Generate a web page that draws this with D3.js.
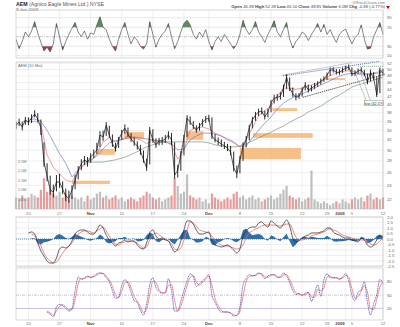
<!DOCTYPE html>
<html><head><meta charset="utf-8">
<script src="https://cdn.jsdelivr.net/npm/d3@7"></script>
<style>
body{margin:0;background:#fff}
svg{display:block}
text{font-family:"Liberation Sans",Arial,sans-serif}
</style>
</head><body>
<svg id="c" width="400" height="327"></svg>
<script>
// ---- axis ticks (trading-day index, 0 = Oct 16 2008) ----
const tickDays   = [2, 7, 12, 17, 22, 27, 31, 36, 41, 46, 50, 53, 54, 59];
const tickLabels = ["20","27","Nov","10","17","24","Dec","8","15","22","29","2009","5","12"];
const boldLabels = ["Nov","Dec","2009"];

// ---- half-day series (119 points) ----
const closePx = [35.1,35.8,34.7,36.3,35.8,36.7,37.7,36.5,34.5,27.8,
 25.4,23.3,23.0,24.5,24.5,23.4,22.4,22.1,23.3,24.8,
 26.4,27.5,28.2,27.8,28.7,29.3,30.0,33.0,32.6,35.1,
 33.0,31.2,30.2,32.0,33.4,34.5,33.2,32.2,31.4,30.8,
 29.8,28.2,26.8,34.0,32.0,31.0,31.8,31.8,32.2,33.0,
 32.0,25.6,26.4,29.1,32.4,36.7,35.8,34.9,34.0,34.9,
 35.8,36.5,36.7,32.8,32.0,31.6,31.2,30.8,30.4,29.6,
 26.8,25.8,28.2,30.8,32.0,34.5,36.3,37.4,38.2,38.4,
 37.0,38.2,40.4,41.7,41.9,42.2,44.4,47.6,44.4,42.8,
 41.9,42.2,43.9,45.3,43.9,44.4,45.0,45.6,46.4,47.0,
 48.2,49.8,49.8,49.1,49.1,49.8,50.4,50.7,48.5,48.8,
 49.5,49.8,48.5,46.1,49.1,47.3,42.5,49.8,48.85];

const highPx = [35.9,36.6,35.9,37.0,36.9,37.6,38.6,37.9,36.4,31.5,
 27.6,25.5,24.1,25.6,25.8,24.6,23.5,23.2,24.0,25.6,
 27.1,28.3,28.9,28.7,29.4,30.1,31.4,33.8,33.9,35.8,
 35.0,33.1,31.4,32.6,34.1,35.3,34.6,33.4,32.5,31.7,
 31.0,29.9,28.4,34.7,34.2,32.3,32.4,32.6,33.0,33.8,
 33.4,31.5,27.3,29.8,33.0,37.4,37.1,36.0,35.1,35.6,
 36.5,37.2,37.5,36.9,33.2,32.5,32.1,31.6,31.2,30.8,
 29.7,27.2,28.9,31.5,32.8,35.2,37.0,38.2,39.0,39.3,
 38.5,38.9,41.2,42.6,42.8,43.3,45.4,48.6,47.5,44.6,
 43.0,43.0,44.6,46.1,45.4,45.2,45.9,46.4,47.2,47.8,
 49.0,50.6,50.7,50.1,50.0,50.6,51.2,51.6,50.6,49.7,
 50.3,50.7,49.9,48.6,49.9,49.2,47.6,50.6,50.2];

const lowPx = [34.3,34.9,34.0,35.2,35.1,35.6,36.9,35.8,33.0,27.0,
 24.6,22.6,22.2,23.1,23.6,22.7,21.7,21.5,22.0,23.4,
 24.9,26.4,27.3,27.0,27.7,28.5,29.2,30.6,31.8,32.8,
 32.4,30.6,29.7,30.4,32.0,33.3,32.6,31.6,30.8,30.1,
 29.1,27.7,26.3,27.4,31.4,30.4,30.9,31.0,31.4,32.1,
 31.0,25.0,25.2,26.3,29.0,32.6,35.2,34.3,33.5,33.9,
 34.8,35.6,35.9,32.2,31.5,31.0,30.6,30.2,29.8,29.0,
 26.2,25.1,25.9,28.0,30.5,31.9,34.4,36.1,37.2,37.6,
 36.4,36.9,38.1,40.3,41.0,41.3,42.0,44.2,43.6,42.0,
 41.1,41.5,42.1,43.8,43.2,43.5,44.2,44.8,45.4,46.2,
 46.8,48.0,49.0,48.4,48.3,48.9,49.5,49.8,47.9,48.0,
 48.6,49.0,47.9,45.5,46.3,46.8,42.0,43.0,48.1];

const volumeM = [0.6,0.5,0.7,0.5,0.6,0.8,0.7,0.6,1.0,1.6,
 0.9,1.0,0.8,0.7,0.9,0.6,0.8,0.5,0.7,0.6,
 0.5,0.6,0.4,0.7,0.5,0.6,0.8,0.9,0.6,0.7,
 0.5,0.6,0.7,0.5,0.6,0.4,0.5,0.6,0.5,0.4,
 0.6,0.7,0.9,0.8,0.6,0.5,0.6,0.4,0.5,0.6,
 0.7,1.6,1.2,0.8,0.9,1.8,0.7,0.6,0.5,0.6,
 0.4,0.5,0.3,0.8,0.6,0.5,0.4,0.5,0.6,0.5,
 0.8,0.9,0.6,0.7,0.5,0.6,0.7,0.5,0.6,0.4,
 0.5,0.6,0.7,0.5,0.6,0.8,1.0,1.2,0.7,0.6,
 0.5,0.6,0.4,0.5,0.6,2.0,0.5,0.4,0.3,0.4,
 0.3,0.2,0.3,0.4,0.3,0.5,0.4,0.3,0.5,0.6,
 0.5,0.6,0.4,0.7,0.8,0.5,0.6,0.5,0.6];

const rsi = [45,25,40,60,50,62,82,58,38,20,
 28,18,35,78,50,22,40,55,68,80,
 60,50,62,45,58,55,75,92,70,65,
 45,30,20,45,65,80,55,35,50,42,
 30,24,35,82,55,28,45,55,62,78,
 50,25,40,60,78,85,75,55,45,60,
 50,65,40,22,40,50,40,55,45,35,
 25,35,55,85,65,55,65,82,60,50,
 38,55,68,84,60,50,65,80,45,26,
 40,48,60,55,42,55,65,78,60,76,
 55,65,50,38,55,62,66,50,35,48,
 55,75,45,24,26,50,65,80,55];

// MACD line, signal, histogram (null before the indicator starts)
const macd = [null,null,null,null,0.55,0.64,0.45,-0.36,-1.09,-1.55,
 -2.0,-2.18,-2.18,-1.73,-0.91,-0.73,-0.82,-0.64,-0.18,0.45,
 0.73,0.82,0.82,0.64,0.45,0.45,0.82,1.27,1.0,0.36,
 -0.09,-0.36,-0.64,-0.36,-0.27,-0.09,-0.27,-0.18,-0.18,-0.55,
 -0.82,-0.91,-0.36,0.55,0.82,0.27,0,0.09,-0.09,-0.18,
 -0.73,-1.18,-0.91,-0.18,0.82,1.64,1.64,1.36,0.82,0.45,
 0.45,0.55,0.64,-0.18,-0.55,-0.64,-0.73,-0.64,-0.55,-0.73,
 -1.0,-1.27,-0.91,0.27,0.73,1.0,1.09,1.09,1.45,1.55,
 1.27,1.09,1.64,1.45,1.18,1.0,1.36,1.73,1.18,0.09,
 -0.27,-0.18,0.09,0.27,0.36,0.55,0.55,0.55,0.64,0.73,
 1.0,1.0,0.64,0.45,0.36,0.18,0.09,0.09,-0.09,-0.18,
 -0.27,0.09,-0.09,-0.55,-0.73,-0.55,-0.09,0.27,0.27];

const signal = [null,null,null,null,null,0.45,0.27,-0.09,-0.64,-1.27,
 -1.73,-2.0,-2.18,-2.09,-1.73,-1.27,-0.91,-0.64,-0.36,0.09,
 0.45,0.64,0.73,0.73,0.64,0.55,0.73,0.91,1.09,0.73,
 0.27,-0.18,-0.45,-0.55,-0.36,-0.27,-0.18,-0.18,-0.27,-0.36,
 -0.64,-0.82,-0.73,-0.09,0.36,0.55,0.36,0.18,0,-0.18,
 -0.45,-0.91,-1.0,-0.82,-0.09,0.82,1.55,1.45,1.18,0.82,
 0.73,0.64,0.55,0.27,-0.09,-0.36,-0.55,-0.64,-0.64,-0.73,
 -0.82,-0.91,-0.82,-0.55,0.09,0.55,0.73,0.91,1.0,1.18,
 1.27,1.27,1.27,1.27,1.18,1.18,1.27,1.36,1.36,0.82,
 0.18,-0.09,-0.09,0,0.09,0.27,0.36,0.45,0.55,0.64,
 0.82,0.91,0.82,0.73,0.55,0.36,0.27,0.18,0.09,0,
 -0.09,-0.09,-0.09,-0.18,-0.45,-0.55,-0.45,-0.18,0.09];

const macdHist = [null,null,null,null,null,0.1,0.05,-0.4,-0.5,-0.3,
 -0.25,-0.15,0,0.35,0.45,0.3,0.1,0,0.2,0.45,
 0.35,0.2,0.1,-0.1,-0.15,-0.05,0.1,0.4,0.2,-0.3,
 -0.4,-0.3,-0.2,0.1,0.1,0.2,-0.05,0,0.05,-0.2,
 -0.2,-0.1,0.35,0.6,0.45,-0.2,-0.3,-0.1,-0.05,0,
 -0.3,-0.5,-0.1,0.4,0.8,0.85,0.1,-0.1,-0.35,-0.3,
 -0.2,0.2,0.1,-0.5,-0.6,-0.3,-0.2,0,0.1,0,
 -0.2,-0.3,-0.1,0.8,0.95,0.6,0.35,0.4,0.45,0.35,
 0,-0.15,0.35,0.2,-0.05,-0.2,0.15,0.5,-0.2,-0.75,
 -0.5,-0.1,0.15,0.2,0.1,0.2,0.15,0.1,0.1,0.1,
 0.3,0.1,-0.2,-0.25,-0.2,-0.2,-0.15,-0.1,-0.15,-0.2,
 -0.15,0.2,0.1,-0.4,-0.3,-0.1,0.3,0.4,0.2];

// stochastic %K / %D
const stochK = [null,null,null,null,null,null,null,null,null,null,
 12,7,1,23,29,27,20,14,20,60,
 91,85,89,93,89,93,98,100,98,89,
 80,60,43,45,71,85,76,56,38,34,
 16,5,31,73,89,67,58,54,56,87,
 60,14,14,36,60,82,98,91,69,76,
 82,89,96,49,34,20,12,12,12,9,
 3,5,23,73,87,96,93,96,100,96,
 87,93,96,96,89,91,100,93,78,60,
 51,54,49,54,56,36,54,73,47,85,
 98,89,89,89,85,91,98,82,49,38,
 56,62,80,34,5,31,51,85,76];

const stochD = [null,null,null,null,null,null,null,null,null,null,
 14,10,5,14,25,28,24,17,17,40,
 76,88,87,91,91,91,95,99,99,93,
 84,70,51,44,58,78,80,66,47,36,
 25,11,18,52,81,78,62,56,55,72,
 73,37,14,25,48,71,90,94,80,72,
 79,85,92,72,42,27,16,12,12,10,
 6,4,14,48,80,91,94,94,98,98,
 91,90,94,96,92,90,95,96,85,69,
 55,52,51,51,55,46,45,63,60,66,
 91,93,89,89,87,88,94,90,65,43,
 47,59,71,57,19,18,41,68,80];

// ---- daily moving averages (60 points) ----
const maFast = [null,36.0,35.8,36.0,35.4,29.1,26.9,25.8,24.8,24.5,
 26.3,27.3,27.8,29.3,31.6,32.4,31.6,32.2,32.8,32.4,
 32.0,31.2,32.0,31.8,31.6,31.0,28.3,30.0,34.0,34.5,
 34.7,34.3,33.4,32.8,32.0,31.4,30.6,32.0,34.5,37.2,
 38.6,39.6,42.2,44.4,44.4,44.1,44.4,45.0,45.6,46.1,
 47.6,48.5,49.1,49.5,49.5,48.8,48.8,48.5,49.1,49.8];
const maMid = [null,null,36.5,36.5,36.0,34.0,31.6,29.3,27.6,25.3,
 26.4,27.5,28.2,28.9,30.2,31.4,31.8,32.0,32.4,32.6,
 32.4,32.2,32.0,31.6,31.6,31.2,30.0,30.2,32.0,32.8,
 33.4,33.4,33.2,32.8,32.2,31.6,30.6,30.8,32.4,34.0,
 35.6,37.0,38.9,40.4,41.4,42.2,42.8,43.6,44.4,45.3,
 46.1,47.0,47.9,48.5,48.8,48.5,48.5,48.5,48.8,49.1];
const maSlow = [null,null,null,null,null,null,null,null,null,null,
 null,28.0,27.8,27.8,27.8,28.0,28.2,28.5,28.9,29.4,
 30.0,30.6,31.0,31.4,31.6,31.6,31.6,31.6,31.6,31.6,
 31.6,31.4,31.0,30.8,30.6,30.6,30.8,31.2,31.8,32.4,
 33.0,33.6,34.3,34.9,35.8,36.5,37.2,38.2,38.9,39.6,
 40.7,41.7,42.5,43.6,44.7,45.3,45.8,46.4,47.0,47.6];

// ---- support / resistance zones: [fromDay, toDay, lowPrice, highPrice] ----
const zones = [[9.0,15.1,24.2,24.7],[13.2,15.9,29.1,30.2],[17.4,20.6,32.2,33.6],
 [27.3,30.1,32.0,33.8],[36.0,45.8,28.3,30.4],[38.1,47.7,32.4,33.4],
 [41.2,45.2,38.4,39.1],[49.7,52.9,46.7,47.3]];

// ---- trend lines: [[day, price], [day, price]] ----
const trendUpperBlue = [[42.9,48.0],[58.5,52.6]];
const trendUpperGray = [[42.9,48.2],[54.0,52.2]];
const trendLower     = [[46.1,41.9],[59.3,48.5]];
const resistance     = [[55.0,51.0],[59.0,51.0]];

const priceTicks = [22,24,26,28,30,32,34,36,38,40,42,44,46,48,50,52];
const volTicks = [0.5,1.0,1.5,2.0,2.5];
const volTickLabels = ["500K","1.0M","1.5M","2.0M","2.5M"];
const rsiTicks = [90,70,30,10];
const macdTicks = [2.0,1.5,1.0,0.5,0.0,-0.5,-1.0,-1.5,-2.0,-2.5];
const stochTicks = [80,50,20];

// ---------------------------------------------------------------
const svg = d3.select("#c");
const L = 16, R = 383;
const P = {
  rsi:   {top:10,  bottom:58},
  price: {top:62,  bottom:209},
  macd:  {top:217, bottom:266},
  stoch: {top:268, bottom:320}
};
const x = d3.scaleLinear().domain([0,59]).range([L,R]);
const hx = (d,i) => x(i/2);
const dx = (d,i) => x(i);

const yR = d3.scaleLinear().domain([0,100]).range([60.5,13]);
const yP = d3.scaleLog().domain([20.65,52.4]).range([P.price.bottom,P.price.top]);
const yV = d3.scaleLinear().domain([0,2.5]).range([P.price.bottom,161]);
const yM = d3.scaleLinear().domain([-2.5,1.9]).range([266.5,218.1]);
const yS = d3.scaleLinear().domain([-6,111]).range([P.stoch.bottom,P.stoch.top]);

const defs = svg.append("defs");
function clip(id, y0, y1){
  defs.append("clipPath").attr("id",id).append("rect")
    .attr("x",L).attr("y",y0).attr("width",R-L+1).attr("height",y1-y0);
}
Object.entries(P).forEach(([k,p])=>clip("clip-"+k,p.top,p.bottom));
clip("clip-ob",P.rsi.top,yR(70));
clip("clip-os",yR(30),P.rsi.bottom);

const grid = "#e4e4e4", axisTxt = "#666";

function panelFrame(p){
  // vertical grid at every date tick
  svg.append("g").selectAll("line").data(tickDays).join("line")
    .attr("x1",d=>x(d)).attr("x2",d=>x(d)).attr("y1",p.top).attr("y2",p.bottom)
    .attr("stroke",grid).attr("stroke-width",0.6);
}
function hGrid(p, ticks, scale, color, dash){
  svg.append("g").selectAll("line").data(ticks).join("line")
    .attr("x1",L).attr("x2",R).attr("y1",d=>scale(d)).attr("y2",d=>scale(d))
    .attr("stroke",color||grid).attr("stroke-width",0.6)
    .attr("stroke-dasharray",dash||null);
}
function rightLabels(ticks, scale, fmt){
  svg.append("g").selectAll("text").data(ticks).join("text")
    .attr("x",R+4).attr("y",d=>scale(d)+1.5).text(fmt||(d=>d))
    .attr("font-size",4.2).attr("fill",axisTxt);
}
function border(p){
  svg.append("rect").attr("x",L).attr("y",p.top).attr("width",R-L).attr("height",p.bottom-p.top)
    .attr("fill","none").attr("stroke","#bdbdbd").attr("stroke-width",0.6);
}
function dateLabels(yy){
  svg.append("g").selectAll("text").data(tickDays).join("text")
    .attr("x",(d,i)=> tickLabels[i]==="2009" ? x(d)-1 : x(d))
    .attr("y",yy)
    .attr("text-anchor",(d,i)=> tickLabels[i]==="2009" ? "end" : "middle")
    .attr("font-size",4.2)
    .attr("font-weight",(d,i)=>boldLabels.includes(tickLabels[i])?"bold":"normal")
    .attr("fill",(d,i)=>boldLabels.includes(tickLabels[i])?"#444":"#777")
    .text((d,i)=>tickLabels[i]);
}

// ---------------- header ----------------
const head = svg.append("text").attr("x",L).attr("y",5.5).attr("font-size",5.2).attr("fill","#555");
head.append("tspan").attr("font-weight","bold").attr("fill","#222").text("AEM ");
head.append("tspan").text("(Agnico Eagle Mines Ltd.)  NYSE");
svg.append("text").attr("x",L).attr("y",10.5).attr("font-size",4.4).attr("fill","#666").text("9-Jan-2009");
svg.append("text").attr("x",R+2).attr("y",3.6).attr("text-anchor","end").attr("font-size",3.8).attr("fill","#777").text("@StockCharts.com");
const quote = [["Open","46.38"],["High","52.28"],["Low","46.10"],["Close","48.85"],["Volume","6.0M"],["Chg","-0.38 (-0.77%)"]];
const qt = svg.append("text").attr("x",R+2).attr("y",8.3).attr("text-anchor","end").attr("font-size",4.2).attr("fill","#444");
quote.forEach(([k,v])=>{ qt.append("tspan").attr("font-weight","bold").text(k+" "); qt.append("tspan").text(v+"  "); });
svg.append("path").attr("d",d3.symbol(d3.symbolTriangle,6)()).attr("transform",`translate(${R+5},7) rotate(180)`).attr("fill","#c00");

// ---------------- RSI panel ----------------
panelFrame(P.rsi);
hGrid(P.rsi, rsiTicks, yR, "#dadada");
hGrid(P.rsi, [50], yR, "#999", "3,1,1,1");
const rsiArea = d3.area().x(hx).y0(yR(50)).y1(d=>yR(d));
svg.append("path").datum(rsi).attr("d",rsiArea).attr("fill","#5d8f5d").attr("clip-path","url(#clip-ob)");
svg.append("path").datum(rsi).attr("d",rsiArea).attr("fill","#a4484c").attr("clip-path","url(#clip-os)");
svg.append("path").datum(rsi).attr("d",d3.line().x(hx).y(d=>yR(d)))
  .attr("fill","none").attr("stroke","#333").attr("stroke-width",0.6).attr("clip-path","url(#clip-rsi)");
border(P.rsi);
rightLabels(rsiTicks, yR);

// ---------------- Price panel ----------------
panelFrame(P.price);
hGrid(P.price, priceTicks, yP);
// volume overlay
svg.append("g").selectAll("rect").data(volumeM).join("rect")
  .attr("x",(d,i)=>hx(d,i)-1.1).attr("width",2.2)
  .attr("y",d=>yV(d)).attr("height",d=>yV(0)-yV(d))
  .attr("fill",(d,i)=> i>0 && closePx[i]<closePx[i-1] ? "#e07a7a" : "#a9a9a9")
  .attr("opacity",0.75);
svg.append("g").selectAll("text").data(volTicks).join("text")
  .attr("x",L+2).attr("y",d=>yV(d)+1.5).attr("font-size",3.8).attr("fill","#777")
  .text((d,i)=>volTickLabels[i]);
// zones
svg.append("g").selectAll("rect").data(zones).join("rect")
  .attr("x",d=>x(d[0])).attr("width",d=>x(d[1])-x(d[0]))
  .attr("y",d=>yP(d[3])).attr("height",d=>yP(d[2])-yP(d[3]))
  .attr("fill","#f7b574").attr("opacity",0.85);
const gP = svg.append("g").attr("clip-path","url(#clip-price)");
const maLine = d3.line().defined(d=>d!=null).x(dx).y(d=>yP(d));
gP.append("path").datum(maSlow).attr("d",maLine).attr("fill","none").attr("stroke","#5d8c5d").attr("stroke-width",0.6);
gP.append("path").datum(maMid).attr("d",maLine).attr("fill","none").attr("stroke","#5a66c4").attr("stroke-width",0.6);
gP.append("path").datum(maFast).attr("d",maLine).attr("fill","none").attr("stroke","#e06464").attr("stroke-width",0.6);
// half-day high-low bars and close line
gP.append("g").selectAll("line").data(closePx).join("line")
  .attr("x1",hx).attr("x2",hx)
  .attr("y1",(d,i)=>yP(highPx[i])).attr("y2",(d,i)=>yP(lowPx[i]))
  .attr("stroke","#111").attr("stroke-width",0.9);
gP.append("path").datum(closePx).attr("d",d3.line().x(hx).y(d=>yP(d)))
  .attr("fill","none").attr("stroke","#111").attr("stroke-width",0.7);
// trend lines
const tl = d3.line().x(d=>x(d[0])).y(d=>yP(d[1]));
svg.append("path").attr("d",tl(trendUpperGray)).attr("stroke","#999").attr("stroke-width",0.5).attr("fill","none");
svg.append("path").attr("d",tl(trendUpperBlue)).attr("stroke","#3a3fa0").attr("stroke-width",0.7).attr("stroke-dasharray","1.2,0.8").attr("fill","none");
svg.append("path").attr("d",tl(trendLower)).attr("stroke","#222").attr("stroke-width",0.8).attr("stroke-dasharray","1.2,0.8").attr("fill","none");
svg.append("path").attr("d",tl(resistance)).attr("stroke","#3c8a3c").attr("stroke-width",0.7).attr("stroke-dasharray","1,1").attr("fill","none");
// low annotation
const noteAt = [56.0, 41.0];
svg.append("line").attr("x1",x(noteAt[0])+2).attr("y1",yP(noteAt[1])).attr("x2",x(54.6)).attr("y2",yP(48.5)).attr("stroke","#888").attr("stroke-width",0.5);
svg.append("line").attr("x1",x(noteAt[0])+6).attr("y1",yP(noteAt[1])).attr("x2",x(55.4)).attr("y2",yP(49.0)).attr("stroke","#888").attr("stroke-width",0.5);
svg.append("rect").attr("x",x(noteAt[0])).attr("y",yP(noteAt[1])).attr("width",19).attr("height",5)
  .attr("fill","#fff").attr("stroke","#7a9a7a").attr("stroke-width",0.5);
svg.append("text").attr("x",x(noteAt[0])+9.5).attr("y",yP(noteAt[1])+3.8).attr("text-anchor","middle")
  .attr("font-size",3.8).attr("fill","#333").text("low (42.5?)");
svg.append("text").attr("x",L+2).attr("y",P.price.top+4.5).attr("font-size",4).attr("fill","#666").text("AEM (10 Min)");
border(P.price);
rightLabels(priceTicks, yP);
dateLabels(215);

// ---------------- MACD panel ----------------
panelFrame(P.macd);
hGrid(P.macd, macdTicks, yM);
const gM = svg.append("g").attr("clip-path","url(#clip-macd)");
gM.append("path").datum(macdHist).attr("d",d3.area().defined(d=>d!=null).x(hx).y0(yM(0)).y1(d=>yM(d)))
  .attr("fill","#2f6eaa");
gM.append("line").attr("x1",L).attr("x2",R).attr("y1",yM(0)).attr("y2",yM(0))
  .attr("stroke","#2f6eaa").attr("stroke-width",0.8).attr("stroke-dasharray","1,1");
const mLine = d3.line().defined(d=>d!=null).x(hx).y(d=>yM(d)).curve(d3.curveMonotoneX);
gM.append("path").datum(signal).attr("d",mLine).attr("fill","none").attr("stroke","#e56a6a").attr("stroke-width",0.8);
gM.append("path").datum(macd).attr("d",mLine).attr("fill","none").attr("stroke","#222").attr("stroke-width",0.7);
border(P.macd);
rightLabels(macdTicks, yM, d=>d.toFixed(1));

// ---------------- Stochastic panel ----------------
panelFrame(P.stoch);
hGrid(P.stoch, [80,20], yS, "#9c9cc8");
hGrid(P.stoch, [50], yS, "#9c9cc8", "3,1,1,1");
const gS = svg.append("g").attr("clip-path","url(#clip-stoch)");
const sLine = d3.line().defined(d=>d!=null).x(hx).y(d=>yS(d)).curve(d3.curveMonotoneX);
gS.append("path").datum(stochD).attr("d",sLine).attr("fill","none").attr("stroke","#ef7f7f").attr("stroke-width",0.9);
gS.append("path").datum(stochK).attr("d",sLine).attr("fill","none").attr("stroke","#3b2fa0").attr("stroke-width",0.7).attr("stroke-dasharray","1.2,0.6");
border(P.stoch);
rightLabels(stochTicks, yS);
dateLabels(325);
</script>
</body></html>
